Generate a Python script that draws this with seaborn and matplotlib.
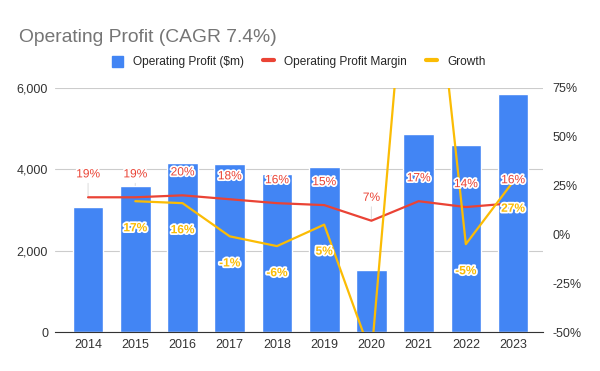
import pandas as pd
import matplotlib.pyplot as plt
import matplotlib.patheffects as pe
from matplotlib.lines import Line2D
from matplotlib.patches import Patch
from matplotlib.ticker import FuncFormatter
import seaborn as sns

# data
years = ['2014', '2015', '2016', '2017', '2018', '2019', '2020', '2021', '2022', '2023']
profit = [3070, 3600, 4150, 4120, 3880, 4050, 1530, 4860, 4590, 5850]
margin = [19, 19, 20, 18, 16, 15, 7, 17, 14, 16]
growth = [None, 17, 16, -1, -6, 5, -62, 218, -5, 27]

BLUE, RED, YELLOW = '#4285F4', '#EA4335', '#FBBC04'

sns.set_style('white')
plt.rcParams['font.family'] = ['Liberation Sans', 'DejaVu Sans']

df = pd.DataFrame({'Year': years, 'Profit': profit,
                   'Margin': [m / 100 for m in margin],
                   'Growth': [g / 100 if g is not None else None for g in growth]})
df['pos'] = range(len(df))

fig = plt.figure(figsize=(6, 3.71), dpi=100)
ax = fig.add_axes([0.0917, 0.105, 0.813, 0.658])

sns.barplot(data=df, x='Year', y='Profit', color=BLUE, width=0.65, saturation=1, ax=ax, zorder=2)
ax.set_ylim(0, 6000)
ax.set_yticks([0, 2000, 4000, 6000])
ax.yaxis.set_major_formatter(FuncFormatter(lambda v, p: f'{v:,.0f}'))
ax.grid(axis='y', color='#cccccc', lw=0.8, zorder=0)
ax.set_axisbelow(True)
ax.set_xlabel('')
ax.set_ylabel('')
for s in ['top', 'right', 'left']:
    ax.spines[s].set_visible(False)
ax.spines['bottom'].set_color('#333333')
ax.tick_params(axis='y', length=0, labelsize=9, colors='#333333', pad=5)
ax.tick_params(axis='x', length=0, labelsize=9, colors='#333333', pad=5)
ax.set_xlim(-0.70, 9.63)

ax2 = ax.twinx()
sns.lineplot(data=df, x='pos', y='Margin', color=RED, lw=1.6, ax=ax2)
sns.lineplot(data=df.dropna(), x='pos', y='Growth', color=YELLOW, lw=1.6, ax=ax2)
ax2.set_ylim(-0.5, 0.75)
ax2.set_yticks([-0.5, -0.25, 0, 0.25, 0.5, 0.75])
ax2.yaxis.set_major_formatter(FuncFormatter(lambda v, p: f'{v * 100:.0f}%'))
ax2.set_xlabel('')
ax2.set_ylabel('')
for s in ax2.spines.values():
    s.set_visible(False)
ax2.tick_params(axis='y', length=0, labelsize=9, colors='#333333', pad=7)
ax2.set_xlim(ax.get_xlim())

outline = [pe.withStroke(linewidth=2.5, foreground='white')]
for i, m in enumerate(margin):
    # faint leader line, drawn under the bars
    ax.annotate('', xy=(i, m / 100), xycoords=ax2.transData, xytext=(0, 10),
                textcoords='offset points', zorder=1,
                arrowprops=dict(arrowstyle='-', color='#e0e0e0', lw=0.8, shrinkA=0, shrinkB=0))
    ax2.annotate(f'{m}%', (i, m / 100), xytext=(0, 16.5), textcoords='offset points',
                 ha='center', va='center', fontsize=8.6, color=RED, path_effects=outline)
for i, g in enumerate(growth):
    if g is None or g / 100 > 0.75 or g / 100 < -0.5:
        continue
    ax2.annotate(f'{g}%', (i, g / 100), xytext=(0, -19.5), textcoords='offset points',
                 ha='center', va='center', fontsize=8.6, color=YELLOW,
                 fontweight='bold', path_effects=outline)

fig.text(0.031, 0.899, 'Operating Profit (CAGR 7.4%)', fontsize=13.9, color='#757575', va='center')

handles = [Patch(color=BLUE), Line2D([], [], color=RED, lw=3), Line2D([], [], color=YELLOW, lw=3)]
labels = ['Operating Profit ($m)', 'Operating Profit Margin', 'Growth']
fig.legend(handles, labels, loc='center', bbox_to_anchor=(0.498, 0.833), ncol=3, frameon=False,
           fontsize=8.6, handlelength=0.95, handleheight=1.1, columnspacing=1.55, handletextpad=0.85)

fig.savefig('out.png', dpi=100, facecolor='white')
